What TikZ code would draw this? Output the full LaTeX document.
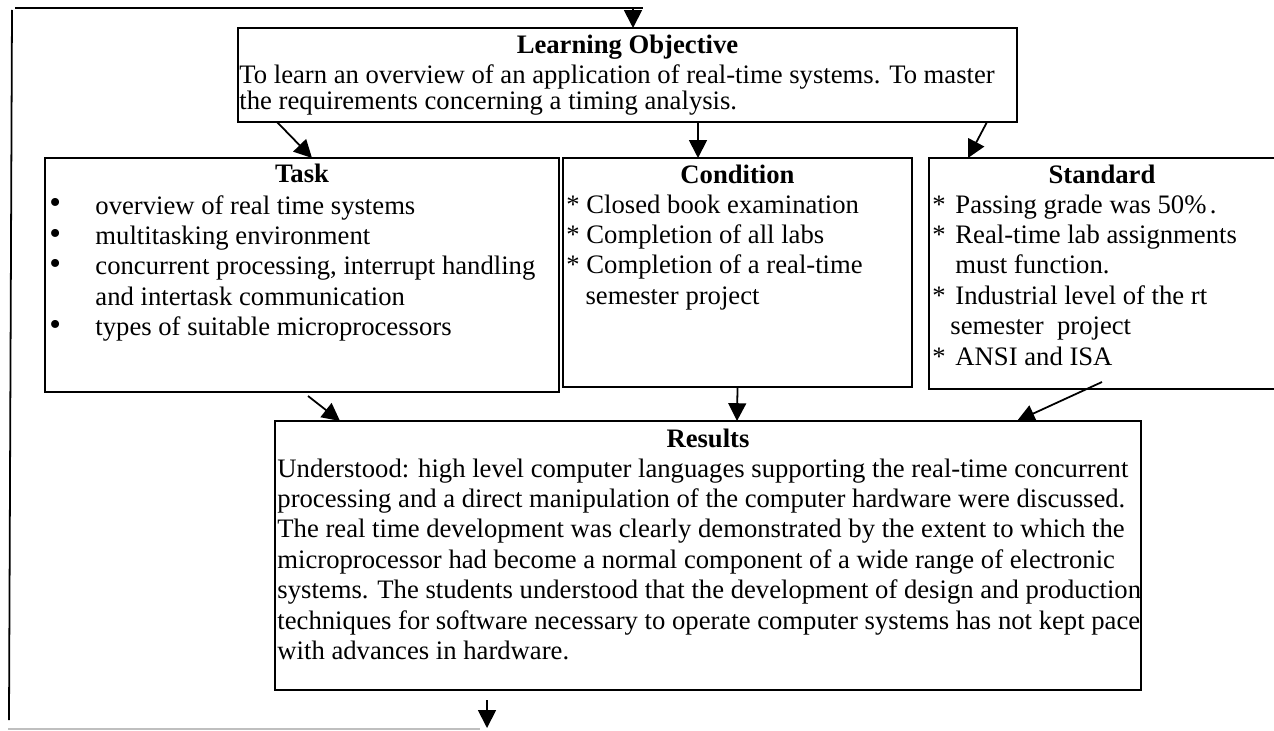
\documentclass[tikz,border=0pt]{standalone}
\usepackage{fontspec}
\setmainfont{Liberation Serif}
\usetikzlibrary{arrows.meta,calc}
\def\u{0.45pt}
\newcommand\bul{\makebox[20.7pt][l]{\raisebox{0.2pt}{\fontsize{15pt}{15pt}\selectfont\textbullet}}}
\newcommand\astk{\makebox[10.35pt][l]{*}}
\begin{document}
\begin{tikzpicture}[x=0.45pt,y=-0.45pt,
  font=\fontsize{12pt}{13.7pt}\selectfont,
  box/.style={draw, line width=0.8pt, inner sep=0pt, outer sep=0pt, anchor=north west},
  arr/.style={line width=0.8pt, -{Triangle[length=8pt,width=8pt]}},
  ttl/.style={font=\fontsize{12pt}{13.7pt}\selectfont\bfseries, anchor=base, inner sep=0pt},
  body/.style={anchor=base west, inner sep=0pt},
  loop/.style={line width=0.8pt}]
\clip (0,0) rectangle (1274,730);
% boxes
\node[box, minimum width={779*\u}, minimum height={94*\u}] (lo) at (238,28) {};
\node[box, minimum width={514*\u}, minimum height={234*\u}] (task) at (45,158) {};
\node[box, minimum width={349*\u}, minimum height={229*\u}] (cond) at (563,158) {};
\node[box, minimum width={347*\u}, minimum height={231*\u}] (std) at (929,158) {};
\node[box, minimum width={866*\u}, minimum height={269*\u}] (res) at (275,421) {};
% titles
\node[ttl] (lot) at (627.5,54) {Learning Objective};
\node[ttl] (taskt) at (302,182) {Task};
\node[ttl] (condt) at (737.5,183) {Condition};
\node[ttl] (stdt) at (1102,183) {Standard};
\node[ttl] (rest) at (708,447) {Results};
% bodies
\node[body] (lob) at (239,83) {\parbox[t]{450pt}{\baselineskip=12pt
To learn an overview of an application of real-time systems. To master\\
the requirements concerning a timing analysis.}};
\node[body] (taskb) at (49,214) {\parbox[t]{450pt}{
\bul overview of real time systems\\
\bul multitasking environment\\
\bul concurrent processing, interrupt handling\\
\hspace*{20.7pt}and intertask communication\\
\bul types of suitable microprocessors}};
\node[body] (condb) at (566,213) {\parbox[t]{450pt}{
{*} Closed book examination\\
{*} Completion of all labs\\
{*} Completion of a real-time\\
\hspace*{8.6pt}semester project}};
\node[body] (stdb) at (932,213) {\parbox[t]{450pt}{
\astk Passing grade was 50\%\kern1.5pt.\\
\astk Real-time lab assignments\\
\hspace*{10.35pt}must function.\\
\astk Industrial level of the rt\\
\hspace*{8.1pt}semester\ \ project\\
\astk ANSI and ISA}};
\node[body] (resb) at (277,477) {\parbox[t]{450pt}{
Understood: high level computer languages supporting the real-time concurrent\\
processing and a direct manipulation of the computer hardware were discussed.\\
The real time development was clearly demonstrated by the extent to which the\\
microprocessor had become a normal component of a wide range of electronic\\
systems. The students understood that the development of design and production\\
techniques for software necessary to operate computer systems has not kept pace\\
with advances in hardware.}};
% connectors
\draw[arr] ($(lo.south west)+(39,0)$) -- ($(task.north west)+(267,0)$);
\draw[arr] ($(lo.south west)+(460,0)$) -- ($(cond.north west)+(135,0)$);
\draw[arr] ($(lo.south west)+(749,0)$) -- ($(std.north west)+(39,0)$);
\draw[arr] ($(task.south west)+(263,4)$) -- ($(res.north west)+(65,0)$);
\draw[arr] (cond.south) -- ($(res.north west)+(462,0)$);
\draw[arr] ($(std.south west)+(173,-7)$) -- ($(res.north west)+(742,0)$);
% feedback loop
\coordinate (b1) at ($(res.south west)+(212,10)$);
\coordinate (b2) at ($(res.south west)+(212,38)$);
\draw[arr] (b1) -- (b2);
\coordinate (g0) at (8,729);
\coordinate (g1) at (480,729);
\draw[line width=0.6pt, gray!50] (g0) -- (g1);
\coordinate (v0) at (9,720);
\coordinate (v1) at (12,10);
\draw[loop] (v0) -- (v1);
\coordinate (t0) at (15,8);
\coordinate (t1) at (643,8);
\draw[loop] (t0) -- (t1);
\draw[arr] ($(lo.north west)+(395,-20)$) -- ($(lo.north west)+(395,0)$);
\end{tikzpicture}
\end{document}
